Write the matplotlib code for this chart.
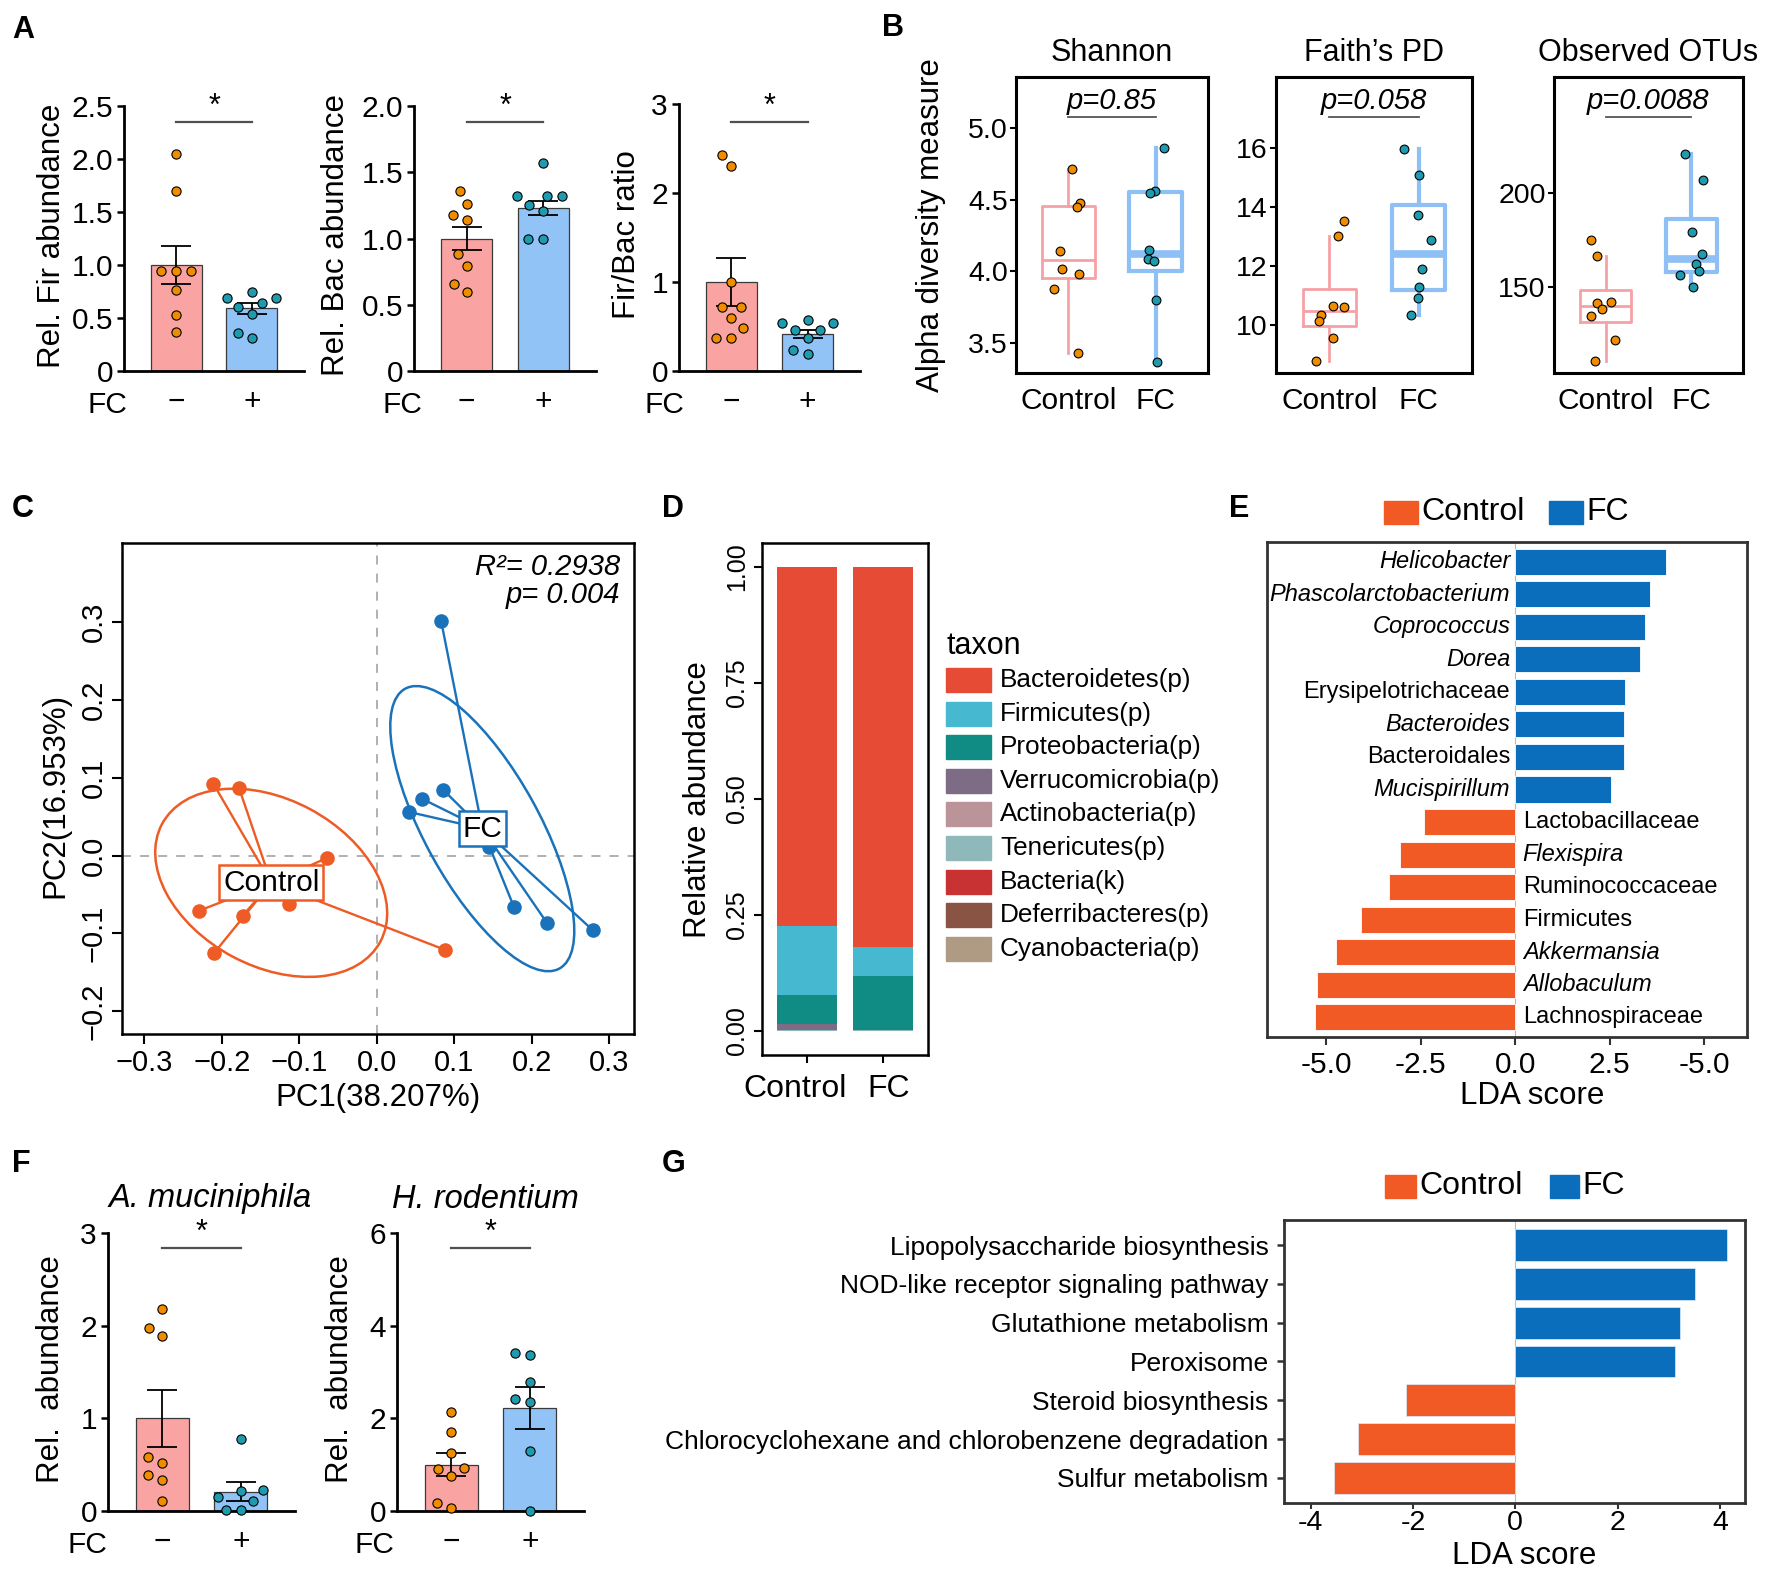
import numpy as np
import matplotlib
matplotlib.use("Agg")
import matplotlib.pyplot as plt
from matplotlib.patches import Ellipse, Rectangle
from matplotlib.transforms import ScaledTranslation

W, H, DPI = 1775, 1571, 100
plt.rcParams["font.family"] = ["Liberation Sans", "DejaVu Sans"]
plt.rcParams["axes.linewidth"] = 1.8

# ---------------- data ----------------
# Panel A
A_ticklabels = ["\u2212", "+"]
fir_ctrl = [2.05, 1.70, 0.94, 0.94, 0.94, 0.76, 0.53, 0.37]
fir_fc = [0.75, 0.69, 0.69, 0.64, 0.60, 0.54, 0.36, 0.31]
fir_mean = [1.00, 0.59]
fir_sem = [0.18, 0.05]
bac_ctrl = [1.36, 1.26, 1.18, 1.14, 0.88, 0.79, 0.66, 0.60]
bac_fc = [1.57, 1.32, 1.32, 1.32, 1.25, 1.21, 1.00, 1.00]
bac_mean = [1.00, 1.23]
bac_sem = [0.09, 0.056]
ratio_ctrl = [2.43, 2.30, 1.00, 0.72, 0.72, 0.59, 0.48, 0.37, 0.37]
ratio_fc = [0.57, 0.54, 0.54, 0.46, 0.46, 0.37, 0.24, 0.19]
ratio_mean = [1.00, 0.42]
ratio_sem = [0.27, 0.045]

# Panel B
B_groups = ["Control", "FC"]
shannon_ctrl = [4.72, 4.48, 4.45, 4.14, 4.02, 3.98, 3.88, 3.43]
shannon_fc = [4.86, 4.56, 4.55, 4.15, 4.09, 4.07, 3.80, 3.37]
faith_ctrl = [13.54, 13.01, 10.64, 10.62, 10.35, 10.13, 9.57, 8.78]
faith_fc = [15.97, 15.07, 13.73, 12.89, 11.92, 11.28, 10.91, 10.35]
otu_ctrl = [174.8, 166.5, 141.7, 141.1, 138.0, 134.4, 121.3, 110.2]
otu_fc = [220.9, 206.7, 178.9, 167.2, 162.1, 158.5, 156.2, 150.0]
B_titles = ["Shannon", "Faith\u2019s PD", "Observed OTUs"]
B_pvals = ["p=0.85", "p=0.058", "p=0.0088"]

# Panel C
pc_ctrl_x = [-0.211, -0.178, -0.064, -0.113, -0.230, -0.173, -0.210, 0.088]
pc_ctrl_y = [0.092, 0.087, -0.003, -0.062, -0.071, -0.077, -0.125, -0.121]
pc_fc_x = [0.083, 0.086, 0.058, 0.041, 0.145, 0.177, 0.220, 0.279]
pc_fc_y = [0.301, 0.084, 0.073, 0.056, 0.011, -0.066, -0.087, -0.096]

# Panel D
taxa = ["Bacteroidetes(p)", "Firmicutes(p)", "Proteobacteria(p)", "Verrucomicrobia(p)",
        "Actinobacteria(p)", "Tenericutes(p)", "Bacteria(k)", "Deferribacteres(p)",
        "Cyanobacteria(p)"]
taxa_colors = ["#E64B35", "#46B8CF", "#118C84", "#7E6C86", "#BA9499", "#8EB8BA",
               "#C83232", "#8A5444", "#AF9B84"]
abund_ctrl = [0.773, 0.150, 0.063, 0.012, 0.001, 0.001, 0.0, 0.0, 0.0]
abund_fc = [0.819, 0.062, 0.117, 0.0005, 0.0005, 0.0005, 0.0005, 0.0, 0.0]

# Panel E
lefse_taxa = ["Helicobacter", "Phascolarctobacterium", "Coprococcus", "Dorea",
              "Erysipelotrichaceae", "Bacteroides", "Bacteroidales", "Mucispirillum",
              "Lactobacillaceae", "Flexispira", "Ruminococcaceae", "Firmicutes",
              "Akkermansia", "Allobaculum", "Lachnospiraceae"]
lefse_lda = [4.00, 3.57, 3.44, 3.30, 2.92, 2.89, 2.87, 2.54,
             -2.42, -3.05, -3.33, -4.09, -4.74, -5.25, -5.30]
lefse_italic = [True, True, True, True, False, True, False, True,
                False, True, False, False, True, True, False]
E_xticks = [-5.0, -2.5, 0.0, 2.5, 5.0]
E_xticklabels = ["-5.0", "-2.5", "0.0", "2.5", "-5.0"]

# Panel F
akk_ctrl = [2.18, 1.97, 1.89, 0.58, 0.52, 0.39, 0.33, 0.11]
akk_fc = [0.78, 0.23, 0.22, 0.15, 0.11, 0.01, 0.01]
akk_mean = [1.00, 0.21]
akk_sem = [0.31, 0.10]
hel_ctrl = [2.13, 1.71, 1.25, 0.92, 0.90, 0.76, 0.18, 0.07]
hel_fc = [3.41, 3.37, 2.78, 2.41, 2.36, 1.30, 0.0]
hel_mean = [1.00, 2.22]
hel_sem = [0.25, 0.46]

# Panel G
path_names = ["Lipopolysaccharide biosynthesis", "NOD-like receptor signaling pathway",
              "Glutathione metabolism", "Peroxisome", "Steroid biosynthesis",
              "Chlorocyclohexane and chlorobenzene degradation", "Sulfur metabolism"]
path_lda = [4.13, 3.51, 3.22, 3.12, -2.14, -3.07, -3.55]
G_xticks = [-4, -2, 0, 2, 4]
G_xticklabels = ["-4", "-2", "0", "2", "4"]

# ---------------- style ----------------
BAR_CTRL, BAR_FC = "#F9A3A3", "#92C3F6"
DOT_CTRL, DOT_FC = "#F08C00", "#1F9BAF"
BOX_CTRL, BOX_FC = "#F5A1A5", "#8EBFF5"
ORANGE, BLUE = "#EE5B24", "#1A72BA"
E_ORANGE, E_BLUE = "#F15A24", "#0A6EBD"
LETTER_SIZE = 22

fig = plt.figure(figsize=(W / DPI, H / DPI), dpi=DPI)


def add_ax(l, t, r, b):
    return fig.add_axes([l / W, 1 - b / H, (r - l) / W, (b - t) / H])


def ftext(x, y, s, **kw):
    return fig.text(x / W, 1 - y / H, s, **kw)


def fig_rect(x0, x1, yc, h, color):
    fig.patches.append(Rectangle((x0 / W, 1 - (yc + h / 2) / H), (x1 - x0) / W, h / H,
                                 transform=fig.transFigure, color=color))


def swarm_x(ax, xc, ys, spacing_px):
    ys = np.asarray(ys, float)
    disp = ax.transData.transform(np.column_stack([np.full(len(ys), xc), ys]))
    x0 = disp[0, 0]
    order = np.argsort(ys)
    placed = []
    offs = np.zeros(len(ys))
    for i in order:
        yp = disp[i, 1]
        cands = [0.0]
        forb = []
        for px, py in placed:
            dy = abs(py - yp)
            if dy < spacing_px:
                dx = np.sqrt(spacing_px ** 2 - dy ** 2)
                forb.append((px - dx, px + dx))
                cands += [px - dx, px + dx]
        valid = [c for c in cands if all(not (a + 1e-6 < c < b - 1e-6) for a, b in forb)]
        best = min(valid, key=abs)
        offs[i] = best
        placed.append((best, yp))
    pts = ax.transData.inverted().transform(np.column_stack([x0 + offs, disp[:, 1]]))
    return pts[:, 0]


def bar_panel(box, ctrl, fc, means, sems, ylim, yticks, yticklabels, sig_y,
              ylabel, ylabel_x, fc_x, title=None, title_xy=None):
    l, t, r, b = box
    ax = add_ax(l, t, r, b)
    ax.set_xlim(0.31, 2.69)
    ax.set_ylim(0, ylim)
    ax.spines[["top", "right"]].set_visible(False)
    ax.spines["left"].set_linewidth(2.0)
    ax.spines["bottom"].set_linewidth(2.0)
    ax.bar([1, 2], means, width=0.67, color=[BAR_CTRL, BAR_FC], edgecolor="#3a3a3a",
           linewidth=0.9, zorder=1)
    ax.errorbar([1, 2], means, yerr=sems, fmt="none", ecolor="black", elinewidth=1.3,
                capsize=11, capthick=1.3, zorder=2)
    for xc, vals, col in [(1, ctrl, DOT_CTRL), (2, fc, DOT_FC)]:
        xs = swarm_x(ax, xc, vals, 15)
        ax.scatter(xs, vals, s=44, color=col, edgecolor="black", linewidth=0.8, zorder=3,
                   clip_on=False)
    ax.plot([1, 2], [sig_y, sig_y], color="#505050", lw=1.6)
    ax.text(1.5, sig_y, "*", ha="center", va="bottom", fontsize=22)
    ax.set_yticks(yticks)
    ax.set_yticklabels(yticklabels)
    ax.tick_params(axis="y", labelsize=21.5, length=5, width=1.8, pad=3)
    ax.set_xticks([1, 2])
    ax.set_xticklabels(A_ticklabels)
    ax.tick_params(axis="x", labelsize=21.5, length=0, pad=12)
    ftext(ylabel_x, (t + b) / 2 - 3, ylabel, rotation=90, ha="center", va="center",
          fontsize=22.5)
    ftext(fc_x, b + 34, "FC", ha="center", va="center", fontsize=21.5)
    if title:
        ftext(title_xy[0], title_xy[1], title, ha="center", va="center", fontsize=23.5,
              style="italic")
    return ax


# ---------------- Panel A ----------------
ftext(12, 30, "A", fontsize=LETTER_SIZE, fontweight="bold", va="center")
bar_panel((124, 106, 304, 371), fir_ctrl, fir_fc, fir_mean, fir_sem, 2.5,
          [0, 0.5, 1.0, 1.5, 2.0, 2.5], ["0", "0.5", "1.0", "1.5", "2.0", "2.5"], 2.35,
          "Rel. Fir abundance", 52, 107)
bar_panel((414, 106, 596, 371), bac_ctrl, bac_fc, bac_mean, bac_sem, 2.0,
          [0, 0.5, 1.0, 1.5, 2.0], ["0", "0.5", "1.0", "1.5", "2.0"], 1.88,
          "Rel. Bac abundance", 336, 402)
bar_panel((679, 104, 860, 371), ratio_ctrl, ratio_fc, ratio_mean, ratio_sem, 3,
          [0, 1, 2, 3], ["0", "1", "2", "3"], 2.80,
          "Fir/Bac ratio", 627, 664)

# ---------------- Panel B ----------------
ftext(882, 28, "B", fontsize=LETTER_SIZE, fontweight="bold", va="center")
ftext(931, 225, "Alpha diversity measure", rotation=90, ha="center", va="center",
      fontsize=22.5)
B_boxes = [(1016, 1208), (1276, 1472), (1554, 1743)]
B_ylims = [(3.29, 5.36), (8.39, 18.39), (103.9, 261.7)]
B_yticks = [[3.5, 4.0, 4.5, 5.0], [10, 12, 14, 16], [150, 200]]
B_yticklabels = [["3.5", "4.0", "4.5", "5.0"], ["10", "12", "14", "16"], ["150", "200"]]
B_data = [(shannon_ctrl, shannon_fc), (faith_ctrl, faith_fc), (otu_ctrl, otu_fc)]
rng = np.random.default_rng(7)
for k in range(3):
    l, r = B_boxes[k]
    ax = add_ax(l, 77, r, 373)
    ax.set_xlim(0.4, 2.6)
    ax.set_ylim(*B_ylims[k])
    for s in ax.spines.values():
        s.set_linewidth(2.2)
    ctrl, fc = B_data[k]
    bp = ax.boxplot([ctrl, fc], positions=[1, 2], widths=0.6, showfliers=False,
                    whis=1.5, showcaps=False, manage_ticks=False)
    for i, (col, lw, mlw) in enumerate([(BOX_CTRL, 2.0, 2.0), (BOX_FC, 3.0, 5.5)]):
        bp["boxes"][i].set(color=col, linewidth=lw)
        bp["medians"][i].set(color=col, linewidth=mlw)
        bp["whiskers"][2 * i].set(color=col, linewidth=lw)
        bp["whiskers"][2 * i + 1].set(color=col, linewidth=lw)
    for xc, vals, col in [(1, ctrl, DOT_CTRL), (2, fc, DOT_FC)]:
        xs = xc + rng.uniform(-0.17, 0.17, len(vals))
        ax.scatter(xs, vals, s=40, color=col, edgecolor="black", linewidth=0.8, zorder=3)
    ax.set_yticks(B_yticks[k])
    ax.set_yticklabels(B_yticklabels[k])
    ax.tick_params(axis="y", labelsize=20.5, length=4, width=1.5, pad=2)
    ax.set_xticks([1, 2])
    ax.set_xticklabels(B_groups)
    ax.tick_params(axis="x", labelsize=21.5, length=0, pad=10)
    ax.plot([1, 2], [0.865, 0.865], transform=ax.get_xaxis_transform(), color="#555555",
            lw=1.3)
    ax.text(1.5, 0.872, B_pvals[k], transform=ax.get_xaxis_transform(), ha="center",
            va="bottom", fontsize=21, style="italic")
    ftext((l + r) / 2, 53, B_titles[k], ha="center", va="center", fontsize=22)

# ---------------- Panel C ----------------
ftext(12, 509, "C", fontsize=LETTER_SIZE, fontweight="bold", va="center")
axC = add_ax(122, 543, 634, 1034)
axC.set_xlim(-0.329, 0.332)
axC.set_ylim(-0.229, 0.401)
axC.axhline(0, color="#AAAAAA", lw=1.3, ls=(0, (5, 5)), zorder=0)
axC.axvline(0, color="#AAAAAA", lw=1.3, ls=(0, (5, 5)), zorder=0)
for xs, ys, col, name in [(pc_ctrl_x, pc_ctrl_y, ORANGE, "Control"),
                          (pc_fc_x, pc_fc_y, BLUE, "FC")]:
    xs = np.array(xs)
    ys = np.array(ys)
    cx, cy = xs.mean(), ys.mean()
    for x, y in zip(xs, ys):
        axC.plot([cx, x], [cy, y], color=col, lw=1.7, zorder=2)
    axC.scatter(xs, ys, s=110, color=col, zorder=3, linewidth=0)
    cov = np.cov(xs, ys)
    vals, vecs = np.linalg.eigh(cov)
    kscale = 1.41
    ang = np.degrees(np.arctan2(vecs[1, 1], vecs[0, 1]))
    axC.add_patch(Ellipse((cx, cy), 2 * kscale * np.sqrt(vals[1]),
                          2 * kscale * np.sqrt(vals[0]), angle=ang, fill=False,
                          edgecolor=col, lw=1.8, zorder=2))
    axC.text(cx, cy, name, ha="center", va="center", fontsize=21.5, zorder=4,
             bbox=dict(boxstyle="square,pad=0.12", fc="white", ec=col, lw=1.8))
axC.set_xticks([-0.3, -0.2, -0.1, 0.0, 0.1, 0.2, 0.3])
axC.set_yticks([-0.2, -0.1, 0.0, 0.1, 0.2, 0.3])
axC.tick_params(labelsize=21, length=7, width=1.5)
for lab in axC.get_yticklabels():
    lab.set_rotation(90)
    lab.set_va("center")
axC.text(0.973, 0.951, "R\u00b2= 0.2938", transform=axC.transAxes, ha="right",
         va="center", fontsize=21, style="italic")
axC.text(0.973, 0.894, "p= 0.004", transform=axC.transAxes, ha="right", va="center",
         fontsize=21, style="italic")
ftext(378, 1098, "PC1(38.207%)", ha="center", va="center", fontsize=22.5)
ftext(55, 795, "PC2(16.953%)", rotation=90, ha="center", va="center", fontsize=22.5)

# ---------------- Panel D ----------------
ftext(662, 509, "D", fontsize=LETTER_SIZE, fontweight="bold", va="center")
axD = add_ax(762, 543, 928, 1055)
axD.set_xlim(0.4, 2.6)
axD.set_ylim(-0.052, 1.052)
bottoms = np.zeros(2)
for name, col, vc, vf in reversed(list(zip(taxa, taxa_colors, abund_ctrl, abund_fc))):
    axD.bar([1, 2], [vc, vf], bottom=bottoms, width=0.8, color=col, linewidth=0)
    bottoms += np.array([vc, vf])
axD.set_yticks([0, 0.25, 0.5, 0.75, 1.0])
axD.set_yticklabels(["0.00", "0.25", "0.50", "0.75", "1.00"])
axD.set_xticks([1, 2])
axD.set_xticklabels(B_groups)
axD.tick_params(axis="y", labelsize=18, length=6, width=1.5)
axD.tick_params(axis="x", labelsize=23, length=6, width=1.5, pad=8)
for lab in axD.get_yticklabels():
    lab.set_rotation(90)
    lab.set_va("center")
xl = axD.get_xticklabels()
xl[0].set_transform(xl[0].get_transform() + ScaledTranslation(-12 / DPI, 0, fig.dpi_scale_trans))
xl[1].set_transform(xl[1].get_transform() + ScaledTranslation(6 / DPI, 0, fig.dpi_scale_trans))
ftext(698, 800, "Relative abundance", rotation=90, ha="center", va="center",
      fontsize=22.5)
ftext(946, 646, "taxon", ha="left", va="center", fontsize=22)
for i, (name, col) in enumerate(zip(taxa, taxa_colors)):
    yc = 680 + i * 33.6
    fig_rect(946, 991, yc, 24, col)
    ftext(1000, yc, name, ha="left", va="center", fontsize=18.8)

# ---------------- Panel E ----------------
ftext(1229, 509, "E", fontsize=LETTER_SIZE, fontweight="bold", va="center")
fig_rect(1384, 1418, 512, 23, E_ORANGE)
ftext(1421, 512, "Control", ha="left", va="center", fontsize=23)
fig_rect(1549, 1583, 512, 23, E_BLUE)
ftext(1586, 512, "FC", ha="left", va="center", fontsize=23)
axE = add_ax(1267, 542, 1747, 1037)
rows = np.arange(len(lefse_taxa))
axE.set_xlim(-6.57, 6.14)
axE.set_ylim(len(lefse_taxa) - 0.4, -0.6)
axE.axvline(0, color="#BBBBBB", lw=0.8, zorder=0)
axE.barh(rows, lefse_lda, height=0.8,
         color=[E_BLUE if v > 0 else E_ORANGE for v in lefse_lda],
         edgecolor="white", linewidth=0.6, zorder=1)
for y, name, v, it in zip(rows, lefse_taxa, lefse_lda, lefse_italic):
    if v > 0:
        axE.text(-0.13, y, name, ha="right", va="center", fontsize=17,
                 style="italic" if it else "normal")
    else:
        axE.text(0.2, y, name, ha="left", va="center", fontsize=17,
                 style="italic" if it else "normal")
for s in axE.spines.values():
    s.set_linewidth(2.0)
    s.set_color("#333333")
axE.set_yticks([])
axE.set_xticks(E_xticks)
axE.set_xticklabels(E_xticklabels)
axE.tick_params(axis="x", labelsize=21.5, length=6, width=1.5, color="#333333", pad=4)
ftext(1532, 1096, "LDA score", ha="center", va="center", fontsize=22.5)

# ---------------- Panel F ----------------
ftext(12, 1164, "F", fontsize=LETTER_SIZE, fontweight="bold", va="center")
bar_panel((108, 1233, 295, 1511), akk_ctrl, akk_fc, akk_mean, akk_sem, 3,
          [0, 1, 2, 3], ["0", "1", "2", "3"], 2.84,
          "Rel.  abundance", 51, 87, "A. muciniphila", (210, 1199))
bar_panel((397, 1233, 584, 1511), hel_ctrl, hel_fc, hel_mean, hel_sem, 6,
          [0, 2, 4, 6], ["0", "2", "4", "6"], 5.68,
          "Rel.  abundance", 340, 374, "H. rodentium", (485, 1199))

# ---------------- Panel G ----------------
ftext(662, 1164, "G", fontsize=LETTER_SIZE, fontweight="bold", va="center")
fig_rect(1385, 1416, 1186, 23, E_ORANGE)
ftext(1419, 1186, "Control", ha="left", va="center", fontsize=23)
fig_rect(1550, 1579, 1186, 23, E_BLUE)
ftext(1582, 1186, "FC", ha="left", va="center", fontsize=23)
axG = add_ax(1284, 1220, 1745, 1503)
grows = np.arange(len(path_names))
axG.set_xlim(-4.52, 4.49)
axG.set_ylim(len(path_names) - 0.35, -0.65)
axG.axvline(0, color="#BBBBBB", lw=0.8, zorder=0)
axG.barh(grows, path_lda, height=0.82,
         color=[E_BLUE if v > 0 else E_ORANGE for v in path_lda],
         edgecolor="#DDEEFF", linewidth=0.5, zorder=1)
for s in axG.spines.values():
    s.set_linewidth(2.0)
    s.set_color("#333333")
axG.set_yticks(grows)
axG.set_yticklabels(path_names)
axG.tick_params(axis="y", labelsize=19, length=5, width=1.8, color="#333333", pad=6)
axG.set_xticks(G_xticks)
axG.set_xticklabels(G_xticklabels)
axG.tick_params(axis="x", labelsize=20.5, length=4, width=1.5, color="#333333", pad=1)
ftext(1524, 1556, "LDA score", ha="center", va="center", fontsize=22.5)

fig.savefig("out.png", dpi=DPI)
